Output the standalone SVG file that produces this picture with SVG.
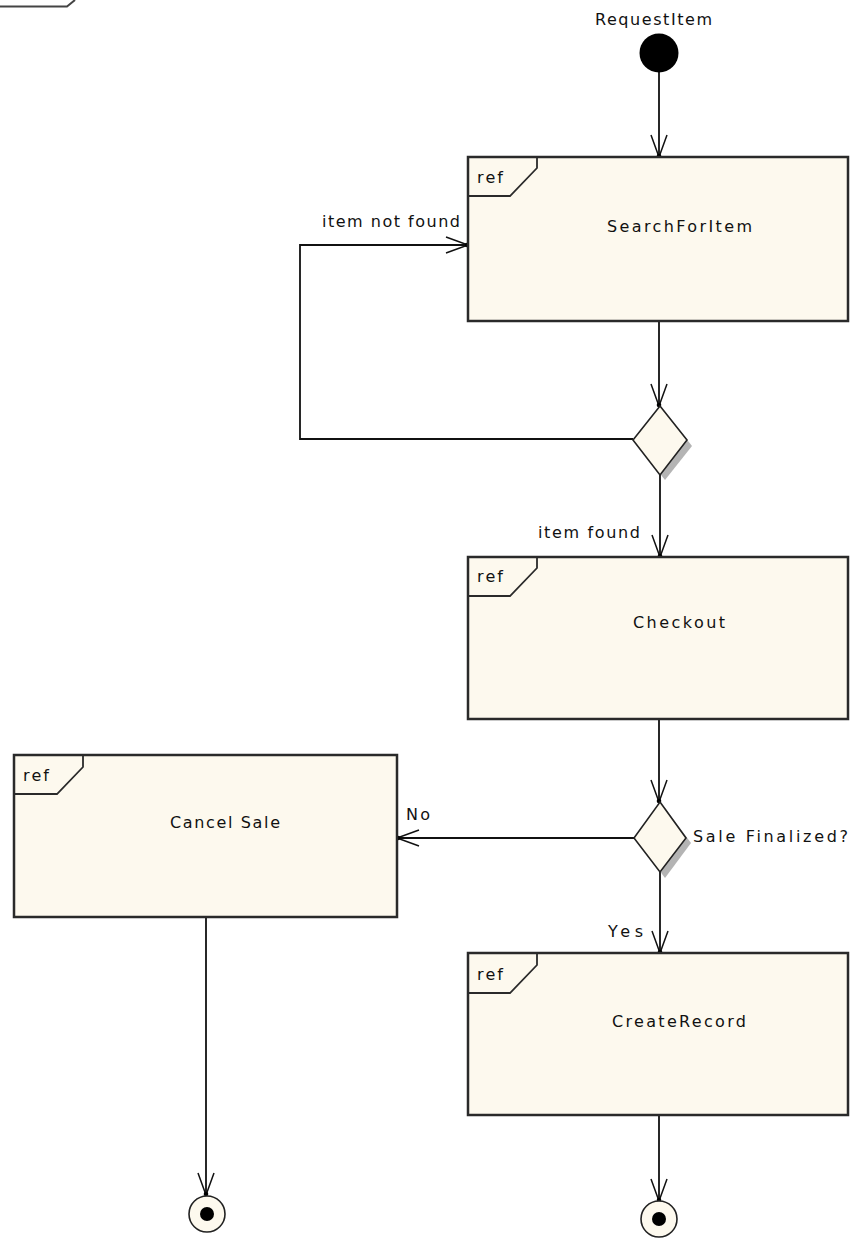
<svg xmlns="http://www.w3.org/2000/svg" width="851" height="1239" viewBox="0 0 851 1239">
<style>
.box{fill:#FDF9EE;stroke:#2a2a2a;stroke-width:2.5}
.tab{fill:none;stroke:#2a2a2a;stroke-width:1.8}
.t{font-family:"DejaVu Sans","Liberation Sans",sans-serif;font-size:16px;fill:#111}
.edge{fill:none;stroke:#111;stroke-width:1.8}
.dia{fill:#FDF9EE;stroke:#222;stroke-width:1.6}
.shadow{fill:#B4B4B4}
</style>
<defs>
<marker id="arr" markerUnits="userSpaceOnUse" markerWidth="30" markerHeight="24" viewBox="-24 -12 30 24" refX="0" refY="0" orient="auto">
<path d="M-22,-8 L0,0 L-22,8" fill="none" stroke="#111" stroke-width="1.5"/>
<circle cx="-1" cy="0" r="2.3" fill="#000"/>
</marker>
</defs>

<g id="frame-fragment">
<path d="M0,6.5 H67 L75,0" fill="none" stroke="#444" stroke-width="2"/>
</g>

<g id="connectors">
<line class="edge" x1="659" y1="72" x2="659" y2="157" marker-end="url(#arr)"/>
<line class="edge" x1="659" y1="321" x2="659" y2="406" marker-end="url(#arr)"/>
<polyline class="edge" points="633,439 300,439 300,245 468,245" marker-end="url(#arr)"/>
<line class="edge" x1="660" y1="475" x2="660" y2="557" marker-end="url(#arr)"/>
<line class="edge" x1="659" y1="719" x2="659" y2="802" marker-end="url(#arr)"/>
<line class="edge" x1="634" y1="838" x2="397" y2="838" marker-end="url(#arr)"/>
<line class="edge" x1="660" y1="872" x2="660" y2="953" marker-end="url(#arr)"/>
<line class="edge" x1="206" y1="917" x2="206" y2="1195" marker-end="url(#arr)"/>
<line class="edge" x1="659" y1="1115" x2="659" y2="1201" marker-end="url(#arr)"/>
<text class="t" x="322" y="227" textLength="138" lengthAdjust="spacing">item not found</text>
<text class="t" x="538" y="538" textLength="102" lengthAdjust="spacing">item found</text>
<text class="t" x="406" y="820" textLength="24" lengthAdjust="spacing">No</text>
<text class="t" x="608" y="937" textLength="35" lengthAdjust="spacing">Yes</text>
</g>

<g id="start">
<circle cx="659" cy="53" r="19.5" fill="#000"/>
<text class="t" x="595" y="25" textLength="117" lengthAdjust="spacing">RequestItem</text>
</g>

<g id="SearchForItem">
<rect class="box" x="468" y="157" width="380" height="164"/>
<path class="tab" d="M468,196 H510 L537,168 V157"/>
<text class="t" x="477" y="183" textLength="26" lengthAdjust="spacing">ref</text>
<text class="t" x="607" y="232" textLength="145" lengthAdjust="spacing">SearchForItem</text>
</g>

<g id="decision1">
<polygon class="shadow" points="665,412 692,446 665,480 638,446"/>
<polygon class="dia" points="660,406 687,440 660,475 633,440"/>
</g>

<g id="Checkout">
<rect class="box" x="468" y="557" width="380" height="162"/>
<path class="tab" d="M468,596 H510 L537,568 V557"/>
<text class="t" x="477" y="582" textLength="26" lengthAdjust="spacing">ref</text>
<text class="t" x="633" y="628" textLength="92" lengthAdjust="spacing">Checkout</text>
</g>

<g id="decision2">
<polygon class="shadow" points="665,808 691,843 665,878 639,843"/>
<polygon class="dia" points="660,802 686,838 660,872 634,838"/>
<text class="t" x="693" y="842" textLength="155" lengthAdjust="spacing">Sale Finalized?</text>
</g>

<g id="CancelSale">
<rect class="box" x="14" y="755" width="383" height="162"/>
<path class="tab" d="M14,794 H57 L83,767 V755"/>
<text class="t" x="23" y="781" textLength="26" lengthAdjust="spacing">ref</text>
<text class="t" x="170" y="828" textLength="110" lengthAdjust="spacing">Cancel Sale</text>
</g>

<g id="CreateRecord">
<rect class="box" x="468" y="953" width="380" height="162"/>
<path class="tab" d="M468,993 H510 L537,965 V953"/>
<text class="t" x="477" y="980" textLength="26" lengthAdjust="spacing">ref</text>
<text class="t" x="612" y="1027" textLength="134" lengthAdjust="spacing">CreateRecord</text>
</g>

<g id="final1">
<circle cx="207" cy="1214" r="18" fill="#FDF9EE" stroke="#222" stroke-width="1.6"/>
<circle cx="207" cy="1214" r="7" fill="#000"/>
</g>

<g id="final2">
<circle cx="659" cy="1219" r="18" fill="#FDF9EE" stroke="#222" stroke-width="1.6"/>
<circle cx="659" cy="1219" r="7" fill="#000"/>
</g>
</svg>
